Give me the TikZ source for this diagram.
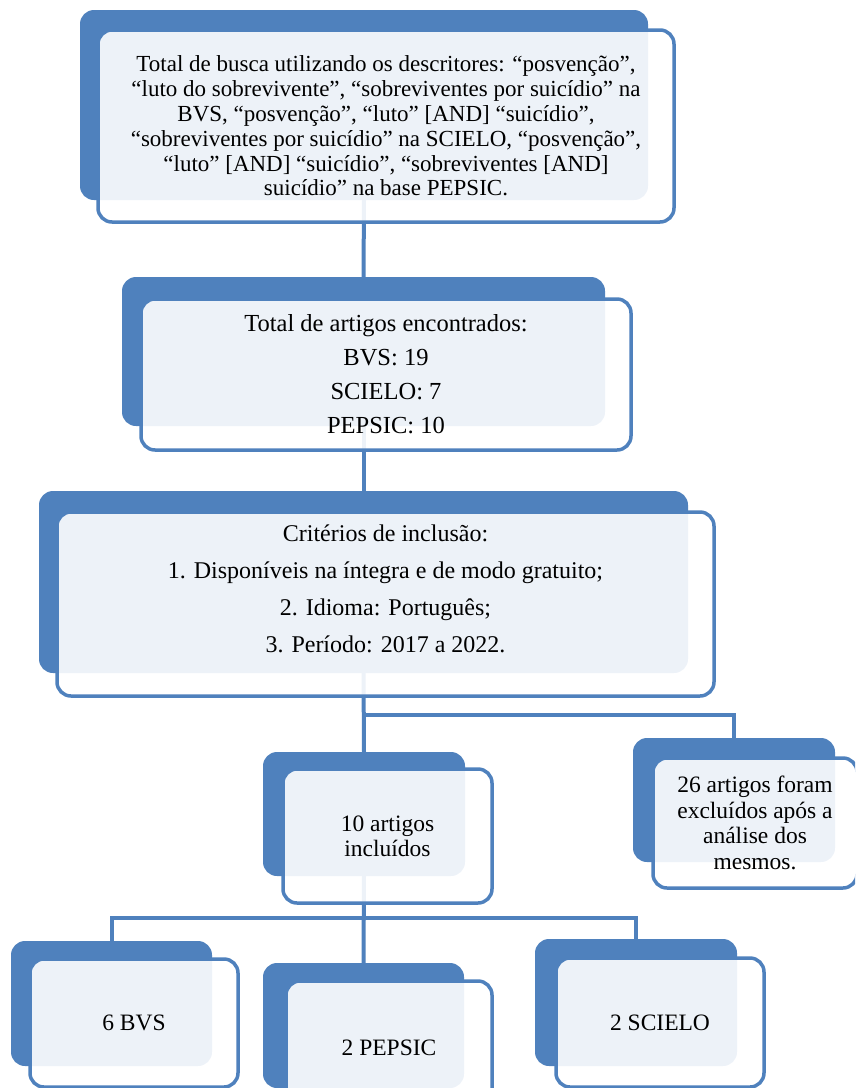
\documentclass[tikz,border=0pt]{standalone}
\usepackage{fontspec}
\setmainfont{Liberation Serif}
\definecolor{accent}{HTML}{4F81BD}
\tikzset{
  backbox/.style={fill=accent, draw=none, rounded corners=14pt, inner sep=0pt, outer sep=0pt},
  frontbox/.style={draw=accent, line width=3.5pt, fill=white, fill opacity=0.9, text opacity=1,
    rounded corners=14pt, inner sep=0pt, outer sep=0pt, align=center, text=black},
  conn/.style={draw=accent, line width=4pt},
}
\begin{document}
\begin{tikzpicture}[x=1pt,y=-1pt]
\useasboundingbox (0,0) rectangle (855,1088);
\clip (0,0) rectangle (855,1088);
% back boxes
\node[backbox, minimum width=568pt, minimum height=190pt] (b1) at (364,105) {};
\node[backbox, minimum width=483pt, minimum height=149pt] (b2) at (363.5,351.5) {};
\node[backbox, minimum width=649pt, minimum height=182pt] (b3) at (363.5,582) {};
\node[backbox, minimum width=202pt, minimum height=124pt] (b4) at (364,814) {};
\node[backbox, minimum width=202pt, minimum height=124pt] (b5) at (734,800) {};
\node[backbox, minimum width=201pt, minimum height=125pt] (b6) at (111.5,1003.5) {};
\node[backbox, minimum width=201pt, minimum height=125pt] (b7) at (363.5,1025.5) {};
\node[backbox, minimum width=202pt, minimum height=127pt] (b8) at (636,1002.5) {};
% connectors
\coordinate (j1) at (364,715);
\coordinate (j2) at (364,918);
\draw[conn] (b1.south) -- (b2.north);
\draw[conn] (b2.south) -- (b3.north);
\draw[conn] (b3.south) -- (b4.north);
\draw[conn] (j1) -| (b5.north);
\draw[conn] (b4.south) -- (b7.north);
\draw[conn] (b6.north) -- (b6.north |- j2) -- (b8.north |- j2) -- (b8.north);
% front boxes
\node[frontbox, minimum width=576pt, minimum height=192pt, font=\fontsize{23}{24.8}\selectfont] (f1) at (386,126)
 {Total de busca utilizando os descritores: “posvenção”,\\
  “luto do sobrevivente”, “sobreviventes por suicídio” na\\
  BVS, “posvenção”, “luto” [AND] “suicídio”,\\
  “sobreviventes por suicídio” na SCIELO, “posvenção”,\\
  “luto” [AND] “suicídio”, “sobreviventes [AND]\\
  suicídio” na base PEPSIC.};
\node[frontbox, minimum width=490pt, minimum height=151pt, font=\fontsize{24.5}{34}\selectfont] (f2) at (386,374.5)
 {Total de artigos encontrados:\\ BVS: 19\\ SCIELO: 7\\ PEPSIC: 10};
\node[frontbox, minimum width=657pt, minimum height=184pt] (f3) at (385.5,604) {};
\node[align=center, font=\fontsize{24}{37}\selectfont, inner sep=0pt] (t3) at (385.5,589)
 {Critérios de inclusão:\\ 1. Disponíveis na íntegra e de modo gratuito;\\ 2. Idioma: Português;\\ 3. Período: 2017 a 2022.};
\node[frontbox, minimum width=209pt, minimum height=134pt, font=\fontsize{23.5}{25}\selectfont] (f4) at (387.5,836)
 {10 artigos\\ incluídos};
\node[frontbox, minimum width=204pt, minimum height=130pt, font=\fontsize{23.5}{25.5}\selectfont] (f5) at (755,823)
 {26 artigos foram\\ excluídos após a\\ análise dos\\ mesmos.};
\node[frontbox, minimum width=208pt, minimum height=128pt, font=\fontsize{23.5}{25}\selectfont] (f6) at (134,1023)
 {6 BVS};
\node[frontbox, minimum width=206pt, minimum height=134pt, font=\fontsize{23.5}{25}\selectfont] (f7) at (389,1048)
 {2 PEPSIC};
\node[frontbox, minimum width=208pt, minimum height=129pt, font=\fontsize{23.5}{25}\selectfont] (f8) at (660,1022.5)
 {2 SCIELO};
\end{tikzpicture}
\end{document}
